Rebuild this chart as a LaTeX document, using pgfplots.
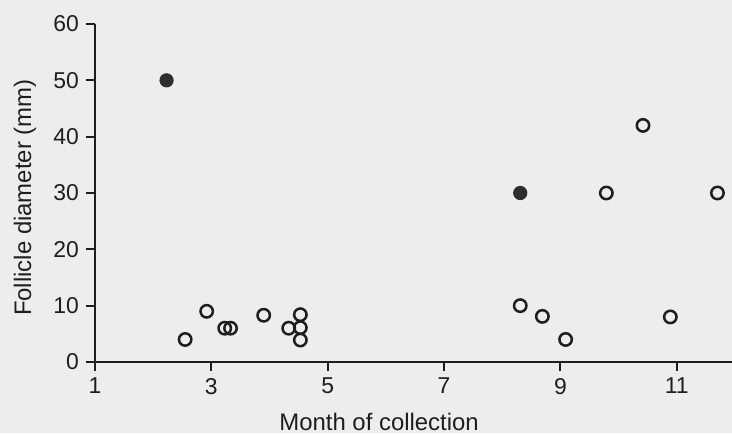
\documentclass[border=0pt]{standalone}
\usepackage{fontspec}
\setmainfont{Liberation Sans}
\usepackage{pgfplots}
\pgfplotsset{compat=1.18}
\usetikzlibrary{backgrounds}
\definecolor{ink}{HTML}{1E1E1E}
\definecolor{paper}{HTML}{EDEDED}
\definecolor{dot}{HTML}{2E2E2E}
\begin{document}
\begin{tikzpicture}
\begin{axis}[
  scale only axis, width=318.5bp, height=169bp,
  xmin=1, xmax=11.95, ymin=0, ymax=60,
  clip=false,
  axis x line*=bottom, axis y line*=left,
  axis line style={ink, line width=1.3bp, -},
  xtick={1,3,5,7,9,11}, ytick={0,10,...,60},
  minor tick num=0,
  tick style={ink, line width=1.1bp},
  tick align=outside, major tick length=4.5bp,
  /pgf/number format/assume math mode=true,
  ticklabel style={font=\fontsize{11.5}{13}\selectfont, text=ink},
  label style={font=\fontsize{12}{14}\selectfont, text=ink},
  xlabel={Month of collection},
  ylabel={Follicle diameter (mm)},
  xlabel style={at={(axis description cs:0.446,0)}, anchor=base, yshift=-34.2bp},
  ylabel style={at={(axis description cs:-0.1099,0.486)}, anchor=center},
]
\addplot[only marks, mark=o, mark size=3.1bp, mark options={draw=ink, fill=paper, line width=1.25bp}] coordinates {
(2.55,4) (2.92,9) (3.23,6) (3.33,6) (3.90,8.3) (4.33,6) (4.53,8.4) (4.53,6.1) (4.53,3.9)
(8.31,10) (8.69,8.1) (9.09,4) (9.79,30) (10.42,42) (10.89,8) (11.70,30)
};
\addplot[only marks, mark=*, mark size=3.3bp, mark options={draw=dot, fill=dot, line width=0.5bp}] coordinates {
(2.23,50) (8.31,30)
};
\coordinate (SW) at (rel axis cs:0,0);
\coordinate (NE) at (rel axis cs:1,1);
\end{axis}
\path (SW) ++(-47.5bp,-35.65bp) coordinate (A);
\path (NE) ++(0,12bp) coordinate (B);
\pgfresetboundingbox
\begin{scope}[on background layer]
\fill[paper] (A) rectangle (B);
\end{scope}
\path[use as bounding box] (A) rectangle (B);
\end{tikzpicture}
\end{document}
